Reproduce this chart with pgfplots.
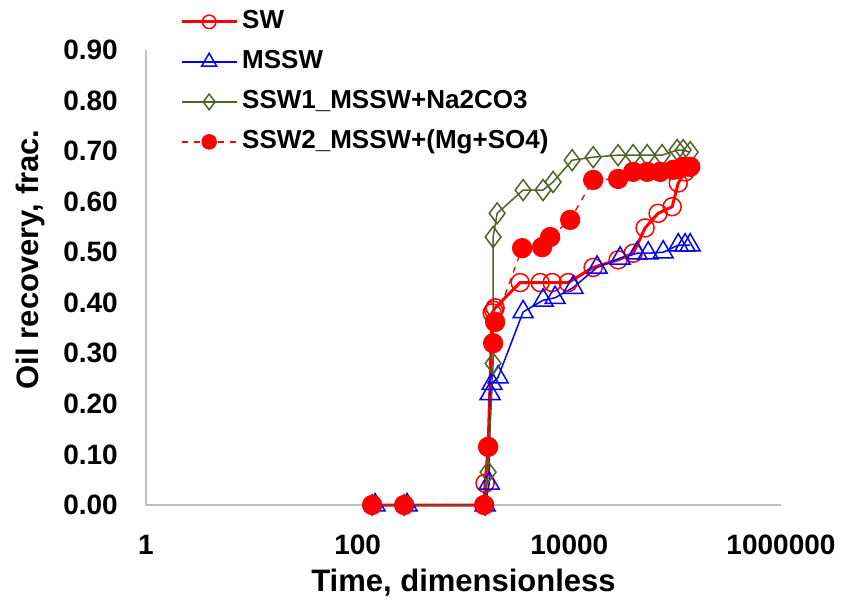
\documentclass[border=0pt]{standalone}
\usepackage{fontspec}
\setmainfont{Liberation Sans}
\usepackage{pgfplots}
\usepackage{pgfplotstable}
\pgfplotsset{compat=1.18}
\definecolor{olivec}{HTML}{4F6228}
\definecolor{axgray}{HTML}{BFBFBF}
\definecolor{redc}{HTML}{FF0000}
\definecolor{bluec}{HTML}{0000FF}

\pgfplotstableread{
x y
137 0
275 0
1567 0
1600 0.043
1710 0.115
1864 0.38
1930 0.385
1990 0.39
3430 0.44
5300 0.44
6880 0.44
9740 0.44
16800 0.47
28900 0.485
40100 0.498
52000 0.548
69000 0.577
93700 0.59
107000 0.637
124000 0.659
130000 0.669
}\tabSW

\pgfplotstableread{
x y
146 0
293 0
1600 0
1750 0.043
1784 0.22
1860 0.24
2125 0.253
3660 0.382
5650 0.405
7340 0.41
10860 0.43
18300 0.47
30200 0.488
43700 0.498
55600 0.498
77100 0.50
107000 0.514
124000 0.514
138700 0.514
}\tabMSSW

\pgfplotstableread{
x y
137 0
275 0
1600 0
1709 0.065
1905 0.28
1905 0.53
2080 0.577
3660 0.623
5650 0.623
7030 0.639
10630 0.682
16800 0.688
28900 0.692
40100 0.692
54400 0.692
75300 0.692
104400 0.702
119000 0.702
138700 0.698
}\tabSSWa

\pgfplotstableread{
x y
137 0
275 0
1567 0
1709 0.115
1905 0.32
1990 0.362
3580 0.508
5530 0.51
6590 0.53
10180 0.564
16800 0.643
28900 0.645
40100 0.659
54400 0.659
72100 0.659
95700 0.663
119000 0.669
138700 0.669
}\tabSSWb

\begin{document}
\begin{tikzpicture}
\useasboundingbox (-146pt,-109pt) rectangle (700pt,505pt);
\begin{axis}[
  at={(0,0)}, anchor=south west,
  scale only axis, width=635pt, height=455pt,
  xmode=log, log basis x=10,
  xmin=1, xmax=1000000, ymin=0, ymax=0.9,
  xtick={1,100,10000,1000000},
  xticklabels={1,100,10000,1000000},
  minor xtick={},
  ytick={0,0.1,0.2,0.3,0.4,0.5,0.6,0.7,0.8,0.9},
  axis x line*=bottom, axis y line*=left,
  axis line style={draw=axgray, line width=1.2pt, -},
  major tick length=0pt, minor tick length=0pt,
  tick style={draw=none},
  tick label style={font=\fontsize{28}{32}\selectfont\bfseries},
  xticklabel style={anchor=center, yshift=-40pt, inner sep=0pt},
  yticklabel style={anchor=east, xshift=-28pt, inner sep=0pt,
    /pgf/number format/.cd, fixed, fixed zerofill, precision=2, assume math mode=true},
  xlabel={Time, dimensionless},
  ylabel={Oil recovery, frac.},
  label style={font=\fontsize{31}{35}\selectfont\bfseries},
  xlabel style={at={(axis description cs:0.5,-0.1714)}, anchor=center},
  ylabel style={at={(axis description cs:-0.1827,0.54)}, anchor=center},
  clip=false,
  legend cell align=left,
  legend style={at={(axis description cs:0.0535,0.93)}, anchor=west,
    draw=none, fill=none, inner sep=0pt, row sep=11pt,
    font=\fontsize{26}{30}\selectfont\bfseries,
    nodes={inner sep=2pt, inner xsep=4pt, text height=19pt, text depth=6pt}},
  legend image code/.code={
    \draw[mark repeat=2,mark phase=2,every mark/.append style={scale=0.75}]
      plot coordinates {(0pt,0pt) (27.5pt,0pt) (55pt,0pt)};},
]
\addplot[redc, line width=3pt, mark=o, mark size=9pt,
  mark options={solid, fill=white, line width=1.5pt}] table {\tabSW};
\addlegendentry{SW}
\addplot[bluec, line width=1.5pt, mark=triangle, mark size=11.5pt,
  mark options={solid, fill=white, line width=1.5pt}] table {\tabMSSW};
\addlegendentry{MSSW}
\addplot[olivec, line width=1.5pt, mark=diamond, mark size=10.5pt,
  mark options={solid, fill=white, line width=1.5pt}] table {\tabSSWa};
\addlegendentry{SSW1\_MSSW+Na2CO3}
\addplot[redc, line width=1.3pt, dash pattern=on 6pt off 6pt, mark=*, mark size=9.5pt,
  mark options={solid, fill=redc, draw=redc}] table {\tabSSWb};
\addlegendentry{SSW2\_MSSW+(Mg+SO4)}
\end{axis}
\end{tikzpicture}
\end{document}
